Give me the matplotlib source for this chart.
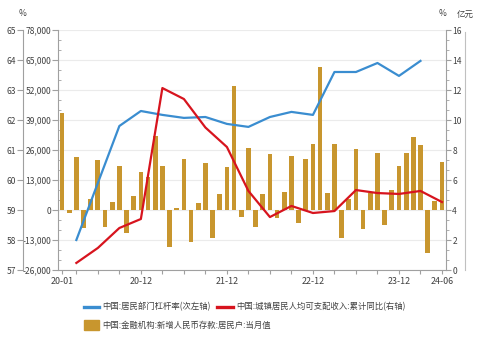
import matplotlib
matplotlib.use("Agg")
import matplotlib.pyplot as plt
from matplotlib.ticker import MultipleLocator, FuncFormatter, AutoMinorLocator
from matplotlib.lines import Line2D
from matplotlib.patches import Patch

plt.rcParams["font.family"] = ["Noto Sans CJK SC", "DejaVu Sans"]
plt.rcParams["font.size"] = 6.1

# monthly labels 20-01 .. 24-06
months = [f"{y % 100:02d}-{m:02d}" for y in range(2020, 2025) for m in range(1, 13)][:54]

# 中国:金融机构:新增人民币存款:居民户:当月值 (亿元)
deposits = [
    42200, -1400, 23100, -7950, 4600, 21500, -7200, 3600, 19100, -9800, 6100, 16300,
    14500, 32100, 19100, -15900, 700, 22000, -13700, 2900, 20200, -12300, 6900, 18500,
    53900, -3200, 26700, -7200, 6900, 24300, -3600, 7900, 23400, -5500, 22100, 28500,
    61800, 7500, 28600, -12300, 4600, 26300, -8400, 7200, 24900, -6500, 8700, 19200,
    24900, 31800, 28100, -18800, 3700, 21000,
]

# quarterly series
lev_months = months[2:51:3]  # 20-03 .. 24-03
leverage = [58.0, 59.9, 61.8, 62.3, 62.17, 62.07, 62.1, 61.87, 61.77, 62.1,
            62.27, 62.17, 63.6, 63.6, 63.9, 63.47, 63.97]
inc_months = months[2:54:3]  # 20-03 .. 24-06
income_yoy = [0.47, 1.47, 2.8, 3.4, 12.13, 11.4, 9.5, 8.2, 5.27, 3.53,
              4.27, 3.8, 3.93, 5.33, 5.13, 5.07, 5.27, 4.53]

tick_labels = ["20-01", "20-12", "21-12", "22-12", "23-12", "24-06"]

gray = "#a0a0a0"
txt = "#404040"
bar_c = "#C8962E"
blue_c = "#3A8DD0"
red_c = "#D7141E"

idx = {m: i for i, m in enumerate(months)}

fig = plt.figure(figsize=(4.84, 3.37), dpi=100)
ax = fig.add_axes([58 / 484, 67 / 337, 388 / 484, 240 / 337])

ax.bar(range(len(months)), deposits, width=0.66, color=bar_c, zorder=2)
ax.set_xlim(-0.56, 53.56)
ax.set_ylim(-26000, 78000)
ax.yaxis.set_major_locator(MultipleLocator(13000))
ax.yaxis.set_minor_locator(AutoMinorLocator(3))
ax.yaxis.set_major_formatter(FuncFormatter(lambda v, p: f"{int(v):,}"))
ax.grid(axis="y", color="#ebebeb", linewidth=0.8, zorder=0)
ax.set_axisbelow(True)

tick_pos = [0] + list(range(2, 54, 3))
ax.set_xticks(tick_pos)
ax.set_xticklabels([m if m in tick_labels else "" for m in (months[i] for i in tick_pos)])
ax.tick_params(axis="x", length=3, color=gray, labelcolor=txt, pad=2, labelsize=6.4)
ax.tick_params(axis="y", which="major", length=4, color=gray, labelcolor=txt, pad=1)
ax.tick_params(axis="y", which="minor", direction="in", length=2.5, color=gray)
for s in ["top", "right"]:
    ax.spines[s].set_visible(False)
for s in ["left", "bottom"]:
    ax.spines[s].set_color(gray)
    ax.spines[s].set_linewidth(0.8)

# left outer axis: leverage %
ax_l = ax.twinx()
ax_l.yaxis.set_ticks_position("left")
ax_l.spines["left"].set_position(("outward", 25.2))
ax_l.spines["left"].set_visible(True)
ax_l.spines["left"].set_color(gray)
ax_l.spines["left"].set_linewidth(0.8)
for s in ["top", "right", "bottom"]:
    ax_l.spines[s].set_visible(False)
ax_l.set_ylim(57, 65)
ax_l.yaxis.set_major_locator(MultipleLocator(1))
ax_l.tick_params(axis="y", length=4, color=gray, labelcolor=txt, pad=1)
ax_l.plot([idx[m] for m in lev_months], leverage, color=blue_c, linewidth=1.6, zorder=3)

# right axis: income yoy %
ax_r = ax.twinx()
for s in ["top", "left", "bottom"]:
    ax_r.spines[s].set_visible(False)
ax_r.spines["right"].set_color(gray)
ax_r.spines["right"].set_linewidth(0.8)
ax_r.set_ylim(0, 16)
ax_r.yaxis.set_major_locator(MultipleLocator(2))
ax_r.yaxis.set_minor_locator(AutoMinorLocator(3))
ax_r.tick_params(axis="y", which="major", length=3.5, color=gray, labelcolor=txt, pad=1)
ax_r.tick_params(axis="y", which="minor", length=2.5, color=gray)
ax_r.plot([idx[m] for m in inc_months], income_yoy, color=red_c, linewidth=1.6, zorder=3)

# outer right frame line
fig.add_artist(Line2D([465 / 484, 465 / 484], [67 / 337, 305 / 337], color="#c0c0c0", linewidth=0.8))

fig.text(23 / 484, 1 - 14 / 337, "%", ha="center", va="center", color=txt)
fig.text(443 / 484, 1 - 14 / 337, "%", ha="center", va="center", color=txt)
fig.text(465 / 484, 1 - 14 / 337, "亿元", ha="center", va="center", color=txt)

h_blue = Line2D([], [], color=blue_c, linewidth=2.4)
h_red = Line2D([], [], color=red_c, linewidth=2.4)
h_bar = Patch(facecolor=bar_c, edgecolor=bar_c)
fig.legend([h_blue, h_red],
           ["中国:居民部门杠杆率(次左轴)", "中国:城镇居民人均可支配收入:累计同比(右轴)"],
           loc="center left", bbox_to_anchor=(76 / 484, 1 - 307 / 337), ncol=2,
           frameon=False, handlelength=1.9, handletextpad=0.4, columnspacing=0.7,
           labelcolor=txt, fontsize=6)
fig.legend([h_bar], ["中国:金融机构:新增人民币存款:居民户:当月值"],
           loc="center left", bbox_to_anchor=(76 / 484, 1 - 325 / 337),
           frameon=False, handlelength=1.9, handleheight=1.4, handletextpad=0.4,
           labelcolor=txt, fontsize=6)

fig.savefig("out.png", dpi=100)
